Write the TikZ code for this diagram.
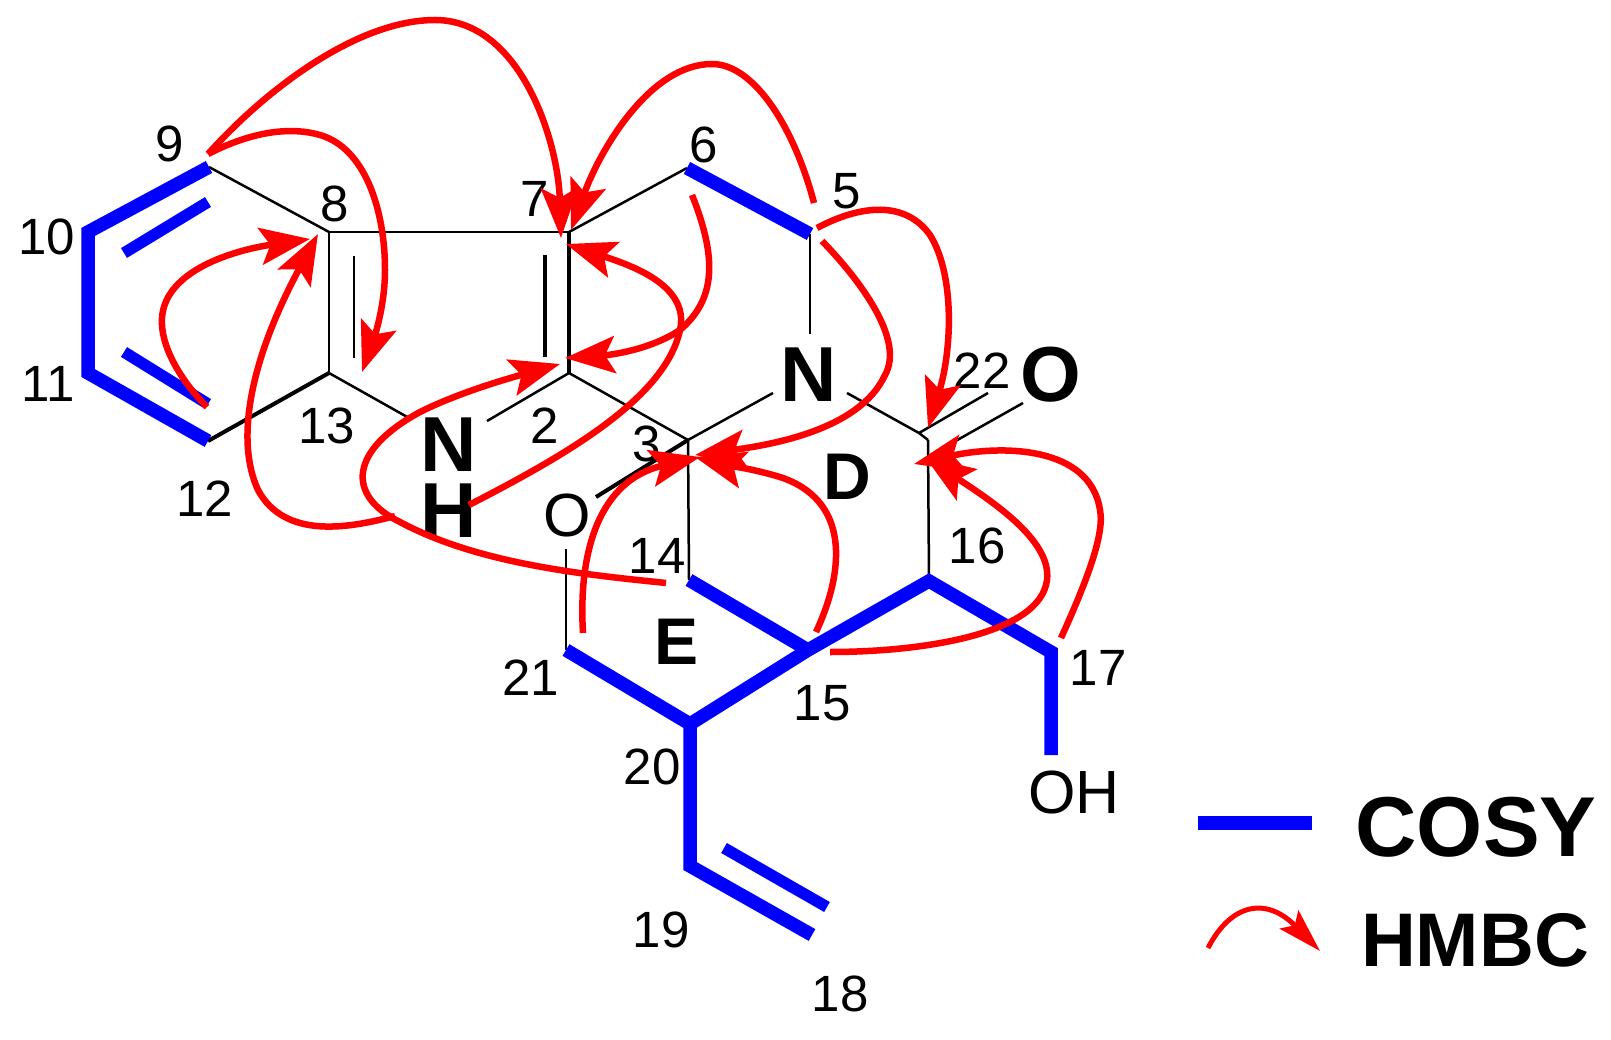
\documentclass[tikz,border=0pt]{standalone}
\usepackage{fontspec}
\setmainfont{Liberation Sans}
\usetikzlibrary{arrows.meta}
\tikzset{
  thinbond/.style={draw=black,line width=2.5pt,line cap=butt},
  midbond/.style={draw=black,line width=4pt,line cap=butt},
  cosy/.style={draw=blue,line width=13.5pt,line join=miter,miter limit=10,line cap=butt},
  cosyin/.style={draw=blue,line width=11.5pt,line cap=butt},
  hmbc/.style={draw=red,line width=6.5pt,-{Stealth[length=50pt,width=37pt,inset=10pt]}},
  num/.style={inner sep=0pt,font=\fontsize{51pt}{51pt}\selectfont},
  atomo/.style={inner sep=0pt,font=\fontsize{61pt}{61pt}\selectfont},
  atomb/.style={inner sep=0pt,font=\fontsize{78pt}{78pt}\selectfont\bfseries},
  ringl/.style={inner sep=0pt,font=\fontsize{66pt}{66pt}\selectfont\bfseries},
}
\begin{document}
\begin{tikzpicture}[x=1pt,y=-1pt]
\useasboundingbox (0,0) rectangle (1611,1040);
\fill[white] (0,0) rectangle (1611,1040);
% atoms
\coordinate (a2) at (569,373);
\coordinate (a3) at (688,440);
\coordinate (a5) at (810,234);
\coordinate (a6) at (687,168);
\coordinate (a7) at (569,232);
\coordinate (a8) at (329,232);
\coordinate (a9) at (209,167);
\coordinate (a10) at (88,232);
\coordinate (a11) at (88,373);
\coordinate (a12) at (208,441);
\coordinate (a13) at (329,373);
\coordinate (a14) at (689,580);
\coordinate (a15) at (808,650);
\coordinate (a16) at (929,581);
\coordinate (a17) at (1051,652);
\coordinate (a18) at (812,935);
\coordinate (a19) at (690,866);
\coordinate (a20) at (690,724);
\coordinate (a21) at (566,650);
\coordinate (a22) at (928,440);
% bond ends at the labels and inner bonds
\coordinate (nhl) at (409,418);
\coordinate (nhr) at (487,421);
\coordinate (nt) at (810,334);
\coordinate (nl) at (773,393);
\coordinate (nr) at (847,393);
\coordinate (c22a) at (919,433);
\coordinate (o22a) at (988,393);
\coordinate (c22b) at (936,452);
\coordinate (o22b) at (1023,403);
\coordinate (ora) at (596,497);
\coordinate (orb) at (566,549);
\coordinate (oh) at (1051,755);
\coordinate (d1a) at (124,253);
\coordinate (d1b) at (208,202);
\coordinate (d2a) at (124,352);
\coordinate (d2b) at (208,404);
\coordinate (d3a) at (354,256);
\coordinate (d3b) at (354,358);
\coordinate (d4a) at (544.5,255);
\coordinate (d4b) at (544.5,357);
\coordinate (d5a) at (724,848);
\coordinate (d5b) at (827,907);
% black bonds
\draw[thinbond] (a9) -- (a8);
\draw[thinbond] (a8) -- (a7);
\draw[thinbond] (a8) -- (a13);
\draw[thinbond] (a13) -- (nhl);
\draw[thinbond] (a2) -- (nhr);
\draw[thinbond] (a2) -- (a3);
\draw[thinbond] (a7) -- (a6);
\draw[thinbond] (a5) -- (nt);
\draw[thinbond] (nl) -- (a3);
\draw[thinbond] (nr) -- (c22a);
\draw[thinbond] (c22a) -- (a22);
\draw[thinbond] (c22a) -- (o22a);
\draw[thinbond] (c22b) -- (o22b);
\draw[thinbond] (a3) -- (a14);
\draw[thinbond] (a22) -- (a16);
\draw[thinbond] (orb) -- (a21);
\draw[thinbond] (d3a) -- (d3b);
\draw[midbond] (a7) -- (a2);
\draw[midbond] (d4a) -- (d4b);
\draw[midbond] (a13) -- (a12);
\draw[midbond] (a3) -- (ora);
% COSY bonds
\draw[cosy] (a9) -- (a10) -- (a11) -- (a12);
\draw[cosyin] (d1a) -- (d1b);
\draw[cosyin] (d2a) -- (d2b);
\draw[cosy] (a6) -- (a5);
\draw[cosy] (a14) -- (a15);
\draw[cosy] (a21) -- (a20) -- (a15) -- (a16) -- (a17) -- (oh);
\draw[cosy] (a20) -- (a19) -- (a18);
\draw[cosyin] (d5a) -- (d5b);
% labels
\node[num] (l2) at (544.5,426) {2};
\node[num] (l3) at (647,444) {3};
\node[num] (l5) at (847,191) {5};
\node[num] (l6) at (704,145) {6};
\node[num] (l7) at (535,199) {7};
\node[num] (l8) at (335,204) {8};
\node[num] (l9) at (170,144) {9};
\node[num] (l10) at (47,237) {10};
\node[num] (l11) at (48,384) {11};
\node[num] (l12) at (205,499) {12};
\node[num] (l13) at (327,426) {13};
\node[num] (l14) at (657,556) {14};
\node[num] (l15) at (822,703) {15};
\node[num] (l16) at (977,546) {16};
\node[num] (l17) at (1098,668) {17};
\node[num] (l18) at (840,994) {18};
\node[num] (l19) at (661,930) {19};
\node[num] (l20) at (652,767) {20};
\node[num] (l21) at (531,678) {21};
\node[num] (l22) at (982,371) {22};
\node[atomb] (ln) at (449,445) {N};
\node[atomb] (lh) at (449,511) {H};
\node[atomb] (ln2) at (809,375) {N};
\node[atomb] (lo2) at (1051,375) {O};
\node[atomo] (lo1) at (567,515) {O};
\node[atomo] (loh) at (1074,792) {OH};
\node[ringl] (ld) at (847,477) {D};
\node[ringl] (le) at (677,642) {E};
% HMBC ends
\coordinate (s9) at (208,154);
\coordinate (s12) at (207,407);
\coordinate (e7a) at (561,238);
\coordinate (e13) at (362,372);
\coordinate (e8a) at (310,239);
\coordinate (e8b) at (318,234);
\coordinate (s4) at (395,516);
\coordinate (s14) at (666,583);
\coordinate (e2a) at (560,364);
\coordinate (sh) at (469,505);
\coordinate (e7b) at (566,244);
\coordinate (s6) at (692,195);
\coordinate (e2b) at (565,358);
\coordinate (s5a) at (814,203);
\coordinate (e7c) at (571,230);
\coordinate (s5b) at (817,228);
\coordinate (e22a) at (928,428);
\coordinate (s5c) at (822,241);
\coordinate (e3a) at (695,455);
\coordinate (s15a) at (816,632);
\coordinate (e3b) at (695,457);
\coordinate (s21) at (583,633);
\coordinate (e3c) at (700,457);
\coordinate (s15b) at (830,652);
\coordinate (e22b) at (925,457);
\coordinate (s17) at (1061,638);
\coordinate (e22c) at (914,464);
% HMBC curves
\draw[hmbc] (s9) .. controls (270,85) and (360,20) .. (435,20) .. controls (520,20) and (558,140) .. (e7a);
\draw[hmbc] (s9) .. controls (245,135) and (285,125) .. (320,135) .. controls (365,148) and (385,210) .. (385,270) .. controls (385,305) and (375,335) .. (e13);
\draw[hmbc] (s12) .. controls (180,380) and (160,345) .. (162,318) .. controls (165,270) and (235,250) .. (e8a);
\draw[hmbc] (s4) .. controls (350,528) and (285,540) .. (258,490) .. controls (235,440) and (250,360) .. (e8b);
\draw[hmbc] (s14) .. controls (590,575) and (480,565) .. (400,522) .. controls (345,495) and (350,450) .. (420,412) .. controls (460,392) and (510,378) .. (e2a);
\draw[hmbc] (sh) .. controls (560,458) and (665,400) .. (680,330) .. controls (690,285) and (630,265) .. (e7b);
\draw[hmbc] (s6) .. controls (718,260) and (715,300) .. (680,330) .. controls (650,350) and (610,355) .. (e2b);
\draw[hmbc] (s5a) .. controls (795,130) and (755,64) .. (712,64) .. controls (650,64) and (600,150) .. (e7c);
\draw[hmbc] (s5b) .. controls (860,205) and (905,200) .. (930,235) .. controls (955,275) and (952,350) .. (e22a);
\draw[hmbc] (s5c) .. controls (860,280) and (905,340) .. (885,375) .. controls (860,430) and (770,445) .. (e3a);
\draw[hmbc] (s15a) .. controls (845,570) and (850,500) .. (780,477) .. controls (750,468) and (725,465) .. (e3b);
\draw[hmbc] (s21) .. controls (578,550) and (600,480) .. (e3c);
\draw[hmbc] (s15b) .. controls (920,652) and (1040,635) .. (1047,580) .. controls (1052,540) and (990,500) .. (e22b);
\draw[hmbc] (s17) .. controls (1085,585) and (1105,535) .. (1100,510) .. controls (1090,445) and (1000,445) .. (e22c);
% legend
\coordinate (ka) at (1198,823);
\coordinate (kb) at (1312,823);
\coordinate (kc) at (1208,948);
\coordinate (kd) at (1320,951);
\draw[draw=blue,line width=14pt] (ka) -- (kb);
\draw[draw=red,line width=5pt,-{Stealth[length=44pt,width=26pt,inset=8pt]}] (kc) .. controls (1230,905) and (1265,895) .. (kd);
\node[inner sep=0pt,font=\fontsize{85pt}{85pt}\selectfont\bfseries] (lcosy) at (1476,827) {COSY};
\node[inner sep=0pt,font=\fontsize{76pt}{76pt}\selectfont\bfseries] (lhmbc) at (1475,940) {HMBC};
\end{tikzpicture}
\end{document}
